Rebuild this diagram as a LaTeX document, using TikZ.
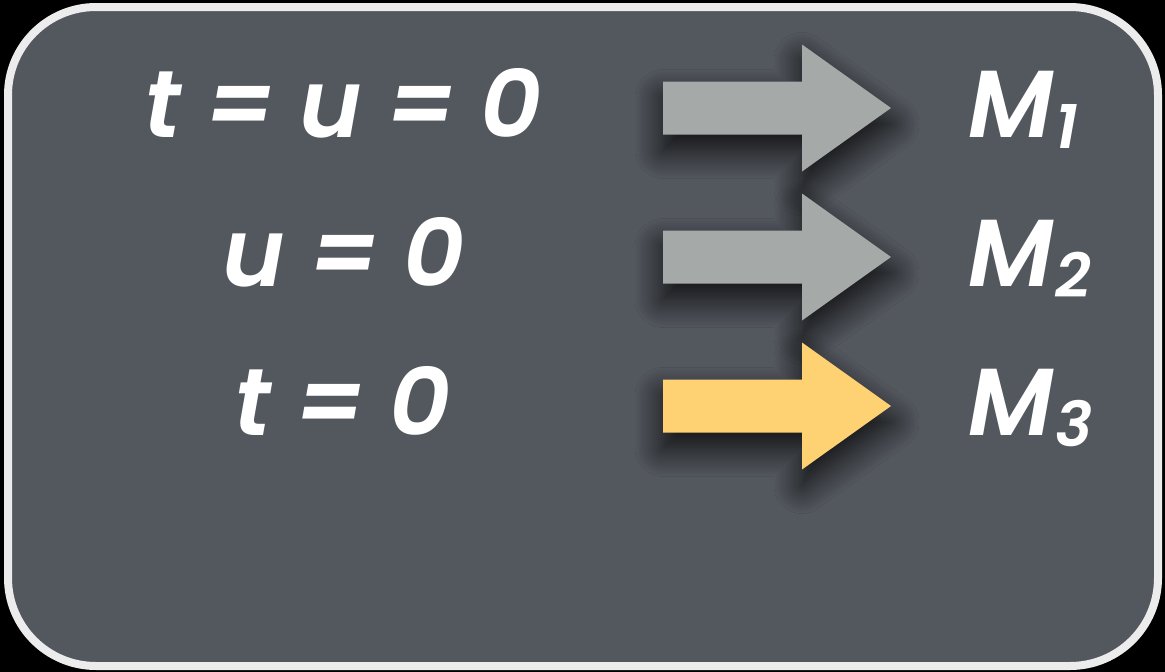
\documentclass[tikz,border=0pt]{standalone}
\usepackage{fontspec}
\setmainfont{Poppins}[BoldItalicFont={Poppins SemiBold Italic}]
\usetikzlibrary{shadows.blur}
\definecolor{panelfill}{HTML}{53575E}
\definecolor{panelborder}{HTML}{ECECEC}
\definecolor{arrowgray}{HTML}{A5A9A7}
\definecolor{arrowyellow}{HTML}{FED273}
\tikzset{
  eqtext/.style={text=white, font=\fontsize{95}{100}\selectfont\bfseries\itshape, inner sep=0pt, anchor=base},
  mtext/.style={text=white, font=\fontsize{95}{100}\selectfont\bfseries\itshape, inner sep=0pt, anchor=base west},
  arrowshape/.style={blur shadow={shadow xshift=0pt, shadow yshift=-16pt, shadow blur radius=28pt, shadow opacity=85, shadow blur steps=24}},
}
\newcommand{\wide}{\spaceskip=24pt\relax}
\newcommand{\msub}[1]{M\kern2pt\raisebox{-11pt}{\fontsize{62}{64}\selectfont #1}}
\newcommand{\blockarrow}[2]{%
  \path[arrowshape, fill=#2] (663,#1-26.5) -- (802,#1-26.5) -- (802,#1-63.5) -- (891,#1) -- (802,#1+63.5) -- (802,#1+26.5) -- (663,#1+26.5) -- cycle;
}
\begin{document}
\begin{tikzpicture}[x=1pt,y=-1pt]
  \fill[black] (0,0) rectangle (1165,672);
  \useasboundingbox (0,0) rectangle (1165,672);
  \draw[panelborder, line width=8pt, fill=panelfill, rounded corners=88pt] (8,7) rectangle (1158,666);
  \blockarrow{108}{arrowgray}
  \blockarrow{257}{arrowgray}
  \blockarrow{406}{arrowyellow}
  \node[eqtext] (e1) at (343,137) {\wide t = u = 0};
  \node[eqtext] (e2) at (344,286) {\wide u = 0};
  \node[eqtext] (e3) at (343,435) {\wide t = 0};
  \node[mtext] (m1) at (968,137) {\msub{1}};
  \node[mtext] (m2) at (968,286) {\msub{2}};
  \node[mtext] (m3) at (968,435) {\msub{3}};
\end{tikzpicture}
\end{document}
